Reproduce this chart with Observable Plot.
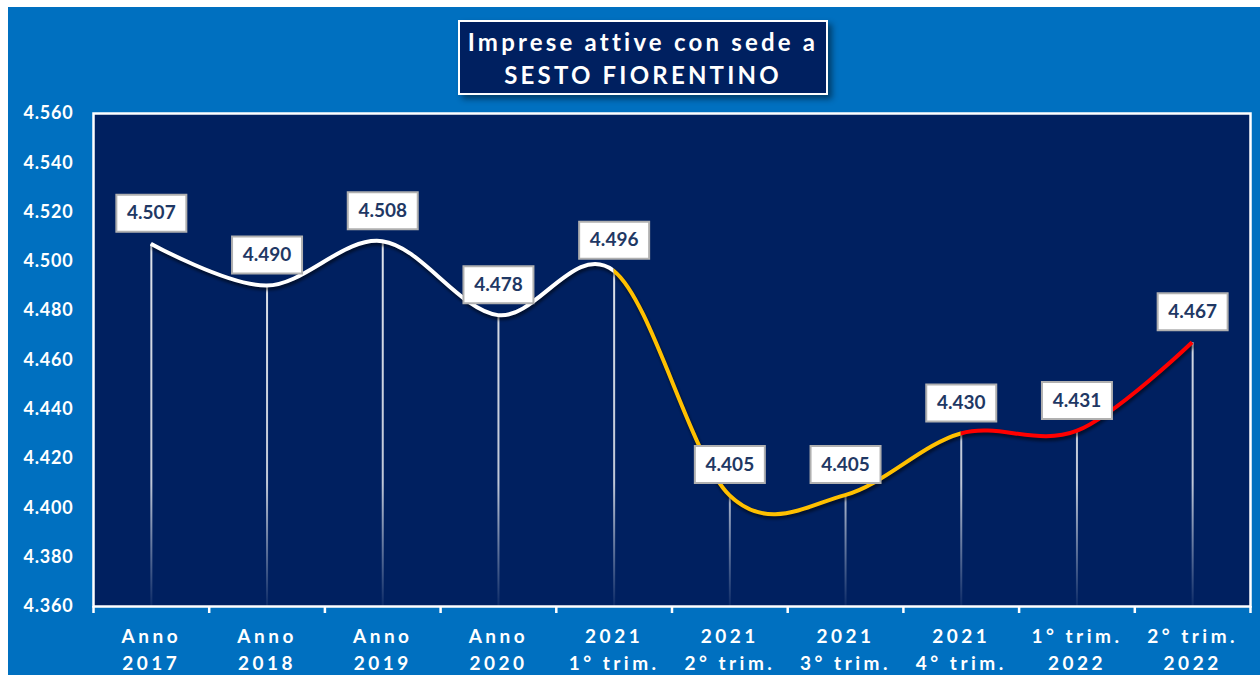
<!DOCTYPE html>
<html>
<head>
<meta charset="utf-8">
<script src="https://cdn.jsdelivr.net/npm/d3@7"></script>
<script src="https://cdn.jsdelivr.net/npm/@observablehq/plot@0.6"></script>
<style>
  html, body { margin: 0; padding: 0; background: #ffffff; width: 1260px; height: 675px; overflow: hidden; }
  #bg { position: absolute; left: 8px; top: 7px; width: 1252px; height: 668px; background: #0070C0; }
  #title {
    position: absolute; left: 458px; top: 20px; width: 366px; height: 71px;
    background: #002060; border: 2px solid #ffffff;
    box-shadow: 4px 4px 6px rgba(0,0,0,0.45);
    color: #ffffff; font-family: Lato, "Open Sans", sans-serif; font-weight: bold;
    font-size: 24px; letter-spacing: 3.2px; line-height: 33px; text-align: center;
    display: flex; flex-direction: column; justify-content: center;
  }
  #chart { position: absolute; left: 0; top: 100px; }
  g[aria-label="x-axis tick label"] text { letter-spacing: 3.5px; }
  g[aria-label="y-axis tick label"] text { letter-spacing: 0.8px; }
  g[aria-label="value-text"] text { letter-spacing: 1px; }
</style>
</head>
<body>
<div id="bg"></div>
<div id="title"><div>Imprese attive con sede a</div><div>SESTO FIORENTINO</div></div>
<div id="chart"></div>
<script>
// ---- data ----
const categories = [
  "Anno\n2017", "Anno\n2018", "Anno\n2019", "Anno\n2020",
  "2021\n1° trim.", "2021\n2° trim.", "2021\n3° trim.", "2021\n4° trim.",
  "1° trim.\n2022", "2° trim.\n2022"
];
const values = [4507, 4490, 4508, 4478, 4496, 4405, 4405, 4430, 4431, 4467];
const yTicks = [4360, 4380, 4400, 4420, 4440, 4460, 4480, 4500, 4520, 4540, 4560];
// line colour segments: colour applies from the given category index up to the next start
const segmentStarts = [0, 4, 7];
const segmentColors = ["#FFFFFF", "#FFC000", "#FF0000"];

// ---- build ----
const itFmt = d3.formatLocale({decimal: ",", thousands: ".", grouping: [3], currency: ["€", ""]}).format(",d");
const data = values.map((v, i) => ({i, v, cat: categories[i]}));
const yMin = yTicks[0], yMax = yTicks[yTicks.length - 1];
const boundaries = d3.range(categories.length + 1).map(k => k - 0.5);

const boxW = 70, boxH = 37;
const boxSymbol = { draw(ctx) { ctx.rect(-boxW / 2, -boxH / 2, boxW, boxH); } };

// smoothed, multi-coloured line drawn from the positions that Plot computed with its scales
function renderSmoothLine(index, scales, vals, dimensions) {
  const pts = Array.from(index, i => [vals.x[i], vals.y[i]]);
  const d = d3.line().curve(d3.curveCardinal.tension(0))(pts);
  const g = d3.create("svg:g").attr("aria-label", "series-line");
  const defs = g.append("defs");
  defs.append("filter").attr("id", "lineBlur").attr("x", "-10%").attr("y", "-20%").attr("width", "120%").attr("height", "140%")
    .append("feGaussianBlur").attr("stdDeviation", 1.6);
  g.append("path").attr("d", d).attr("fill", "none").attr("stroke", "#000000").attr("stroke-opacity", 0.5)
    .attr("stroke-width", 5).attr("transform", "translate(1,2.5)").attr("filter", "url(#lineBlur)");
  segmentStarts.forEach((s, k) => {
    const x0 = k === 0 ? 0 : scales.x(s);
    const x1 = k === segmentStarts.length - 1 ? dimensions.width : scales.x(segmentStarts[k + 1]);
    defs.append("clipPath").attr("id", "segClip" + k)
      .append("rect").attr("x", x0).attr("y", 0).attr("width", x1 - x0).attr("height", dimensions.height);
    g.append("path").attr("d", d).attr("fill", "none").attr("stroke", segmentColors[k])
      .attr("stroke-width", 4).attr("stroke-linejoin", "round").attr("clip-path", "url(#segClip" + k + ")");
  });
  return g.node();
}

const W = 1260, H = 575;
const chart = Plot.plot({
  width: W, height: H,
  marginLeft: 93, marginRight: 10, marginTop: 13, marginBottom: 69,
  style: { background: "transparent", color: "#ffffff", fontFamily: "Lato, 'Open Sans', sans-serif", overflow: "visible" },
  x: { type: "linear", domain: [-0.5, categories.length - 0.5], label: null },
  y: { domain: [yMin, yMax], label: null },
  marks: [
    Plot.frame({ fill: "#002060", stroke: "#ffffff", strokeWidth: 2.5 }),
    Plot.axisY({ ticks: yTicks, tickSize: 0, tickPadding: 20, tickFormat: itFmt, fontSize: 18, fontWeight: "bold", fill: "#ffffff", label: null }),
    Plot.axisX({ ticks: boundaries, tickSize: 7, tickFormat: () => "", stroke: "#ffffff", strokeWidth: 2.5, label: null }),
    Plot.axisX({ ticks: d3.range(categories.length), tickSize: 0, tickPadding: 17, tickFormat: i => categories[i],
                 fontSize: 19, fontWeight: "bold", fill: "#ffffff", lineHeight: 1.42, label: null }),
    Plot.ruleX(data, { x: "i", y1: yMin, y2: "v", stroke: "url(#dropGrad)", strokeWidth: 2, ariaLabel: "drop-lines" }),
    Plot.line(data, { x: "i", y: "v", render: renderSmoothLine }),
    Plot.dot(data, { x: "i", y: "v", dy: -31, symbol: boxSymbol, r: 10, fill: "#ffffff", stroke: "#B0B0B0", strokeWidth: 2, ariaLabel: "value-box" }),
    Plot.text(data, { x: "i", y: "v", dy: -31, text: d => itFmt(d.v), fill: "#1F3864", fontSize: 19, fontWeight: "bold", ariaLabel: "value-text" })
  ]
});

const sy = chart.scale("y");
const svg = d3.select(chart);
const defs = svg.insert("defs", ":first-child");
const drop = defs.append("linearGradient").attr("id", "dropGrad").attr("gradientUnits", "userSpaceOnUse")
  .attr("x1", 0).attr("x2", 0).attr("y1", sy.apply(yMax)).attr("y2", sy.apply(yMin));
drop.append("stop").attr("offset", 0).attr("stop-color", "#ffffff").attr("stop-opacity", 0.95);
drop.append("stop").attr("offset", 0.75).attr("stop-color", "#ffffff").attr("stop-opacity", 0.75);
drop.append("stop").attr("offset", 1).attr("stop-color", "#ffffff").attr("stop-opacity", 0.05);
const sh = defs.append("filter").attr("id", "shadow").attr("x", "-30%").attr("y", "-30%").attr("width", "160%").attr("height", "160%");
sh.append("feDropShadow").attr("dx", 3).attr("dy", 4).attr("stdDeviation", 3).attr("flood-color", "#000000").attr("flood-opacity", 0.6);
svg.select('g[aria-label="value-box"]').attr("filter", "url(#shadow)");

document.getElementById("chart").appendChild(chart);
</script>
</body>
</html>
